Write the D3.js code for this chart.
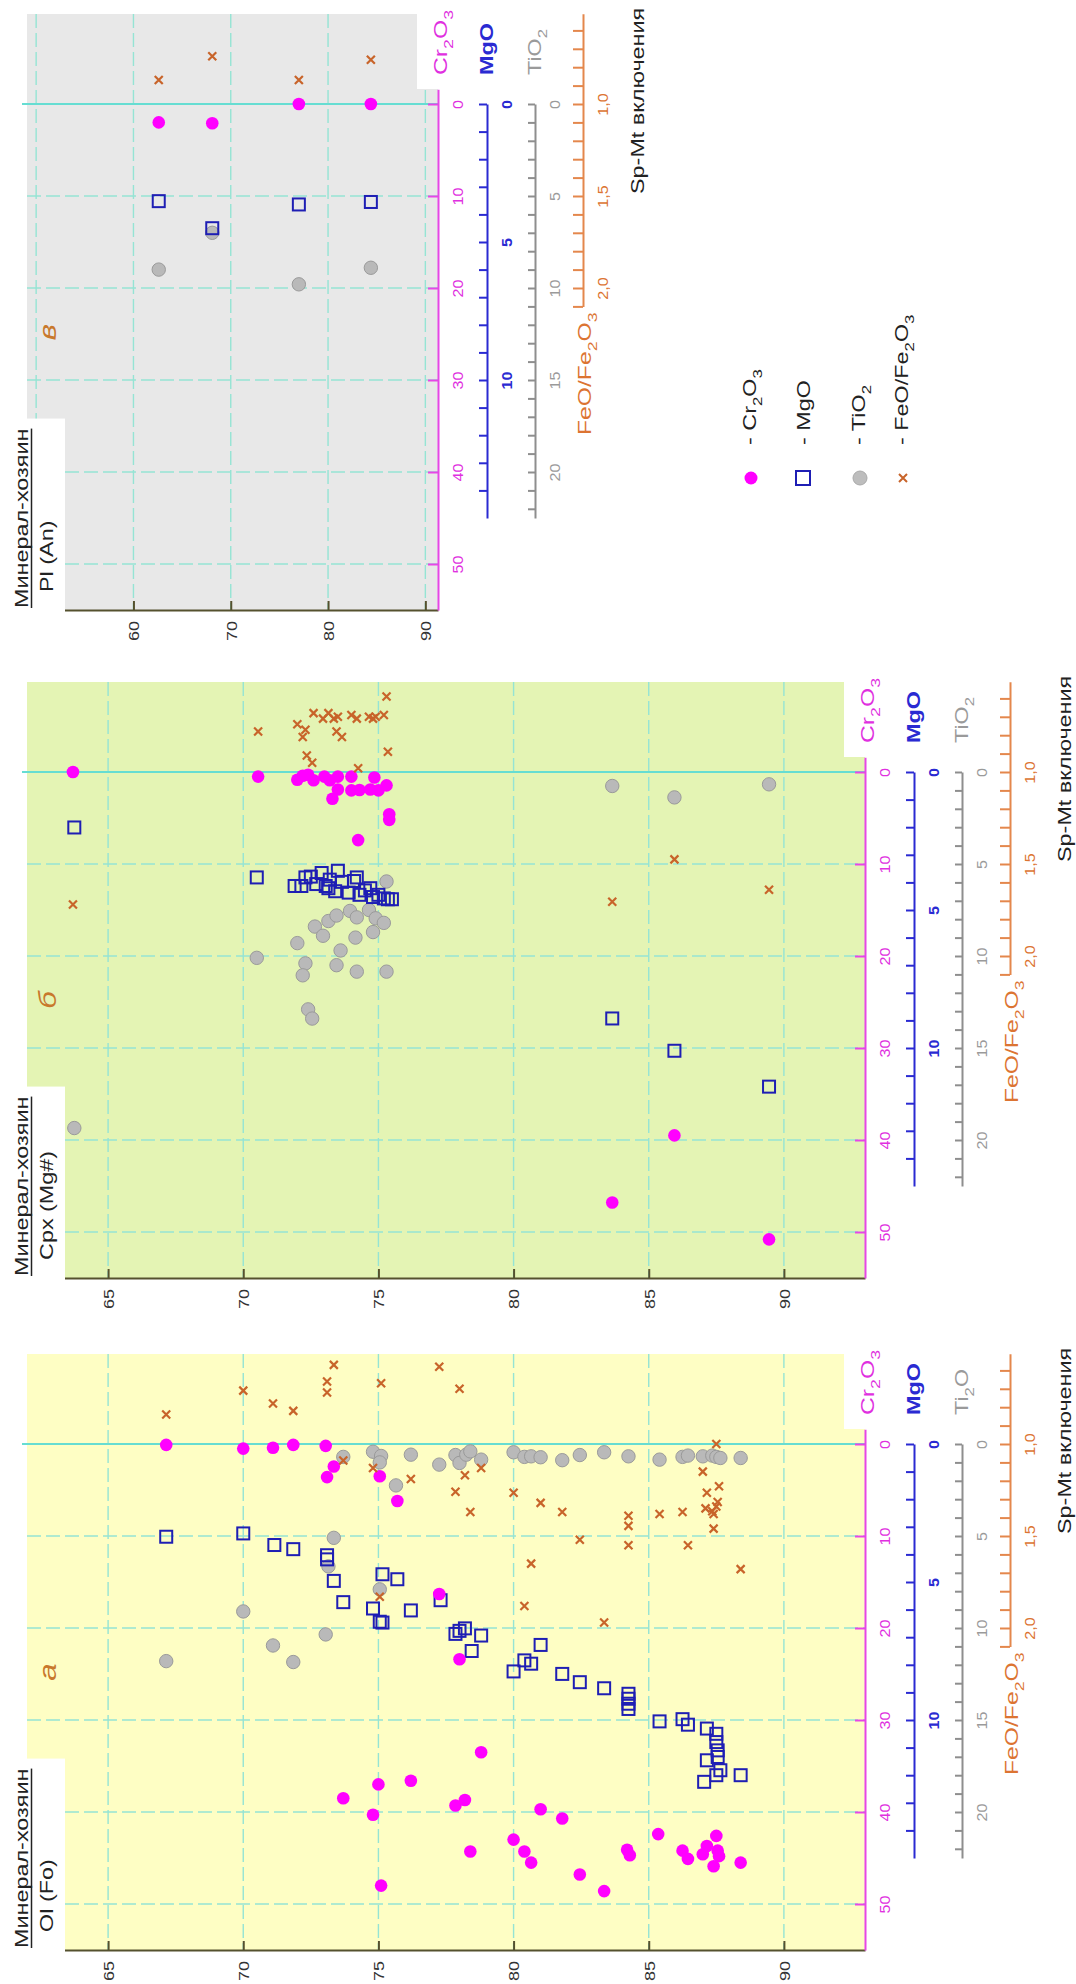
<!DOCTYPE html>
<html><head><meta charset="utf-8">
<script src="https://cdn.jsdelivr.net/npm/d3@7"></script>
<style>
body{margin:0;background:#fff;}
text{font-family:'Liberation Sans',Arial,Helvetica,sans-serif;}
</style>
</head><body>
<script>
// ---------- DATA (host composition, value) ----------
// Panel в : Pl (An)
const plCr2O3 = [[62.6,2.0],[68.1,2.1],[77.0,0.0],[84.4,0.0]];
const plMgO   = [[62.6,3.52],[68.1,4.5],[77.0,3.64],[84.4,3.55]];
const plTiO2  = [[62.6,9.0],[68.1,7.0],[77.0,9.8],[84.4,8.9]];
const plFeO   = [[62.6,0.87],[68.1,0.74],[77.0,0.87],[84.4,0.76]];

// Panel б : Cpx (Mg#)
const cpxCr2O3 = [[63.7,0.0],[70.55,0.5],[72.0,0.85],[72.2,0.4],[72.4,0.3],[72.6,0.9],[73.0,0.5],[73.2,0.9],[73.5,0.5],[74.0,0.5],[74.85,0.6],[73.5,1.9],[74.0,2.0],[74.3,1.95],[74.7,1.9],[75.0,2.0],[75.3,1.45],[73.3,2.9],[75.4,4.6],[75.4,5.2],[74.25,7.4],[85.95,39.5],[83.65,46.8],[89.45,50.8]];
const cpxMgO = [[63.75,2.01],[70.5,3.82],[71.9,4.13],[72.15,4.13],[72.3,3.82],[72.5,3.79],[72.7,4.06],[72.9,3.66],[73.05,4.13],[73.15,4.21],[73.2,3.9],[73.4,4.32],[73.5,3.58],[73.65,3.98],[73.9,4.37],[74.1,3.95],[74.2,3.82],[74.3,4.45],[74.5,4.29],[74.7,4.21],[74.8,4.53],[75.0,4.45],[75.2,4.58],[75.35,4.61],[75.5,4.61],[83.65,8.93],[85.95,10.1],[89.45,11.4]];
const cpxTiO2 = [[63.75,19.35],[70.5,10.1],[72.0,9.3],[72.3,10.4],[72.2,11.05],[72.4,12.9],[72.55,13.4],[72.65,8.4],[72.95,8.9],[73.15,8.1],[73.45,7.8],[73.6,9.7],[73.45,10.5],[73.95,7.55],[74.15,9.0],[74.2,7.9],[74.2,10.85],[74.65,7.5],[74.8,8.7],[74.9,7.95],[75.2,8.2],[75.3,5.95],[75.3,10.85],[83.65,0.76],[85.95,1.38],[89.45,0.67]];
const cpxFeO = [[63.7,1.72],[70.55,0.78],[72.0,0.74],[72.2,0.81],[72.3,0.77],[72.35,0.91],[72.55,0.95],[72.6,0.68],[72.95,0.71],[73.15,0.68],[73.35,0.71],[73.5,0.70],[73.45,0.78],[73.65,0.81],[74.0,0.69],[74.2,0.71],[74.25,0.98],[74.65,0.70],[74.8,0.71],[74.9,0.70],[75.2,0.69],[75.3,0.59],[75.35,0.89],[83.65,1.705],[85.95,1.475],[89.45,1.64]];

// Panel а : Ol (Fo)
const olCr2O3 = [[67.15,0.1],[70.0,0.5],[71.1,0.4],[71.85,0.1],[73.05,0.2],[73.35,2.45],[73.1,3.6],[75.05,3.5],[75.7,6.2],[77.25,16.3],[78.0,23.4],[73.7,38.5],[75.0,37.0],[76.2,36.6],[74.8,40.3],[75.1,48.0],[77.85,39.3],[78.2,38.7],[78.8,33.5],[81.0,39.7],[81.8,40.7],[80.0,43.0],[80.4,44.3],[80.65,45.5],[78.4,44.3],[82.45,46.8],[83.35,48.6],[84.2,44.1],[84.3,44.7],[85.35,42.4],[86.25,44.2],[86.45,45.1],[87.0,44.6],[87.15,43.7],[87.5,42.6],[87.55,44.2],[87.6,44.8],[87.4,45.9],[88.4,45.5]];
const olMgO = [[67.15,3.36],[70.0,3.24],[71.15,3.66],[71.85,3.81],[73.1,4.03],[73.1,4.18],[73.35,4.96],[73.7,5.73],[74.8,5.96],[75.15,4.72],[75.7,4.9],[75.05,6.44],[75.15,6.47],[76.2,6.03],[77.3,5.66],[77.85,6.88],[78.2,6.68],[78.0,6.77],[78.8,6.94],[78.45,7.5],[80.0,8.24],[80.4,7.84],[80.65,7.96],[81.0,7.28],[81.8,8.33],[82.45,8.63],[83.35,8.85],[84.25,9.05],[84.25,9.23],[84.25,9.41],[84.25,9.6],[85.4,10.05],[86.25,9.97],[86.45,10.17],[87.15,10.31],[87.5,10.5],[87.5,10.8],[87.55,11.1],[87.55,11.34],[87.15,11.46],[87.65,11.82],[87.5,12.0],[87.05,12.24],[88.4,12.0]];
const olTiO2 = [[67.15,11.8],[70.0,9.1],[71.1,10.95],[71.85,11.85],[73.05,10.35],[73.15,6.65],[73.35,5.1],[73.7,0.7],[74.8,0.42],[75.1,0.65],[75.05,1.0],[75.65,2.25],[75.05,7.9],[76.2,0.58],[77.25,1.12],[77.85,0.6],[78.0,1.03],[78.25,0.58],[78.4,0.4],[78.8,0.85],[80.0,0.45],[80.4,0.7],[80.65,0.67],[81.0,0.72],[81.8,0.88],[82.45,0.6],[83.35,0.45],[84.25,0.67],[85.4,0.85],[86.25,0.7],[86.45,0.63],[87.0,0.67],[87.35,0.63],[87.5,0.7],[87.65,0.76],[88.4,0.76]];
const olFeO = [[67.15,0.84],[70.0,0.71],[71.1,0.78],[71.85,0.82],[73.1,0.72],[73.1,0.66],[73.35,0.57],[73.7,1.09],[74.8,1.13],[75.1,0.67],[75.05,1.83],[76.2,1.19],[77.25,0.58],[77.85,1.26],[78.0,0.70],[78.2,1.17],[78.4,1.37],[78.8,1.13],[80.0,1.265],[81.0,1.32],[81.8,1.37],[82.45,1.52],[80.65,1.65],[80.4,1.88],[83.35,1.97],[84.25,1.39],[84.25,1.445],[84.25,1.55],[85.4,1.38],[86.25,1.37],[86.45,1.55],[87.0,1.15],[87.15,1.265],[87.6,1.23],[87.1,1.35],[87.35,1.365],[87.5,1.34],[87.4,1.38],[87.55,1.315],[87.4,1.46],[87.5,1.0],[88.4,1.68]];

// ---------- TICKS ----------
const hostTicksOlCpx = [65,70,75,80,85,90];
const hostTicksPl = [60,70,80,90];
const gridXOlCpx = [65,70,75,80,85,90];
const gridXPl = [50,60,70,80,90];
const crTicks = [0,10,20,30,40,50];
const crGrid = [10,20,30,40,50];
const mgLabels = [0,5,10];
const tiLabels = [0,5,10,15,20];
const feLabels = [1.0,1.5,2.0];

// ---------- STYLE ----------
const STR = 1.3;
const C = {pink:"#ff00ff", pinkAxis:"#e646e6", pinkText:"#e030e0",
  blue:"#1e1eb4", blueAxis:"#2a2ad2", grey:"#b9b9b9", greyAxis:"#8e8e8e", greyText:"#9a9a9a",
  orange:"#c8642a", orangeAxis:"#e4874c", orangeText:"#dc7432", grid:"#95e4d4", zero:"#66ddd2",
  host:"#55512e", letter:"#c8782c"};

const svg = d3.select("body").append("svg").attr("width",1076).attr("height",1984);

function rtext(parent, cx, y, segs, o = {}) {
  const size = o.size || 18, sx = o.sx || STR;
  const t = parent.append("text")
    .attr("transform", `translate(${cx + size*0.36},${y}) rotate(-90) scale(${sx},1)`)
    .attr("text-anchor", o.anchor || "start")
    .attr("font-size", size)
    .attr("fill", o.fill || "#222")
    .attr("font-weight", o.weight || "normal")
    .attr("font-style", o.style || "normal");
  if (typeof segs === "string") segs = [[segs, 0]];
  let down = false;
  segs.forEach(([s, sub]) => {
    const ts = t.append("tspan").text(s);
    if (sub) { ts.attr("font-size", size*0.72); if (!down) { ts.attr("dy", size*0.3); down = true; } }
    else if (down) { ts.attr("dy", -size*0.3); down = false; }
  });
  return t;
}

const panels = [
  {zero:104, hostDomain:[49.06,91.3], hostRange:[27,438], hostTicks:hostTicksPl, gridX:gridXPl, bg:"#e8e8e8",
   letter:"в", mineral:"Pl (An)", tiLabel:[["TiO",0],["2",1]], cr:plCr2O3, mg:plMgO, ti:plTiO2, fe:plFeO},
  {zero:772, hostDomain:[62,93], hostRange:[27,865], hostTicks:hostTicksOlCpx, gridX:gridXOlCpx, bg:"#e4f4b4",
   letter:"б", mineral:"Cpx (Mg#)", tiLabel:[["TiO",0],["2",1]], cr:cpxCr2O3, mg:cpxMgO, ti:cpxTiO2, fe:cpxFeO},
  {zero:1444, hostDomain:[62,93], hostRange:[27,865], hostTicks:hostTicksOlCpx, gridX:gridXOlCpx, bg:"#fefec4",
   letter:"а", mineral:"Ol (Fo)", tiLabel:[["Ti",0],["2",1],["O",0]], cr:olCr2O3, mg:olMgO, ti:olTiO2, fe:olFeO}
];

const PX = 9.2; // px per 1 wt% Cr2O3
panels.forEach(p => {
  const g = svg.append("g");
  const z = p.zero, top = z - 90, bottom = z + 506;
  const x = d3.scaleLinear().domain(p.hostDomain).range(p.hostRange);
  const ax = p.hostRange[1];
  const yCr = d3.scaleLinear().domain([0,50]).range([z, z + 50*PX]);
  const yMg = d3.scaleLinear().domain([0,15]).range([z, z + 45*PX]);
  const yTi = d3.scaleLinear().domain([0,22.5]).range([z, z + 45*PX]);
  const yFe = d3.scaleLinear().domain([1,2]).range([z, z + 20*PX]);

  // background
  g.append("rect").attr("x",27).attr("y",top).attr("width",ax-27).attr("height",bottom-top).attr("fill",p.bg);
  // grid
  g.selectAll(null).data(p.gridX).join("line")
    .attr("x1",d=>x(d)).attr("x2",d=>x(d)).attr("y1",top).attr("y2",bottom)
    .attr("stroke",C.grid).attr("stroke-width",1.4).attr("stroke-dasharray","14,5");
  g.selectAll(null).data(crGrid).join("line")
    .attr("x1",27).attr("x2",ax).attr("y1",d=>yCr(d)).attr("y2",d=>yCr(d))
    .attr("stroke",C.grid).attr("stroke-width",1.4).attr("stroke-dasharray","14,5");
  g.append("line").attr("x1",22).attr("x2",ax).attr("y1",yCr(0)).attr("y2",yCr(0))
    .attr("stroke",C.zero).attr("stroke-width",2.2);

  // panel letter
  rtext(g, 47, z + 228, p.letter, {size:24, anchor:"middle", fill:C.letter, style:"italic"});

  // markers
  g.selectAll(null).data(p.ti).join("circle")
    .attr("cx",d=>x(d[0])).attr("cy",d=>yTi(d[1])).attr("r",6.7)
    .attr("fill",C.grey).attr("stroke","#9a9a9a").attr("stroke-width",1);
  g.selectAll(null).data(p.mg).join("rect")
    .attr("x",d=>x(d[0])-6).attr("y",d=>yMg(d[1])-6).attr("width",12).attr("height",12)
    .attr("fill","none").attr("stroke",C.blue).attr("stroke-width",2);
  g.selectAll(null).data(p.cr).join("circle")
    .attr("cx",d=>x(d[0])).attr("cy",d=>yCr(d[1])).attr("r",6.3).attr("fill",C.pink);
  g.selectAll(null).data(p.fe).join("path")
    .attr("transform",d=>`translate(${x(d[0])},${yFe(d[1])})`)
    .attr("d","M-4,-4L4,4M-4,4L4,-4").attr("stroke",C.orange).attr("stroke-width",2.2);

  // white label box top-right
  g.append("rect").attr("x",ax-21).attr("y",top-12).attr("width",60).attr("height",(z-15)-(top-12)).attr("fill","#fff");

  // host axis
  const hAxis = d3.axisBottom(x).tickValues(p.hostTicks).tickSizeInner(-9).tickSizeOuter(0).tickFormat(d3.format("d"));
  const hg = g.append("g").attr("transform",`translate(0,${bottom})`).call(hAxis);
  hg.select(".domain").attr("stroke",C.host).attr("stroke-width",2);
  hg.selectAll(".tick line").attr("stroke",C.host).attr("stroke-width",2);
  hg.selectAll(".tick text").attr("y",null).attr("dy",null).attr("fill","#333").attr("font-size",15)
    .attr("text-anchor","end").attr("transform",`translate(${15*0.36},11) rotate(-90) scale(1.2,1)`);

  // mineral label box
  const t1 = rtext(g, 22, bottom - 2, "Минерал-хозяин", {size:18});
  const len = t1.node().getComputedTextLength() * STR;
  g.insert("rect", () => t1.node()).attr("x",0).attr("y",bottom - 2 - len - 10).attr("width",65)
    .attr("height",len + 14).attr("fill","#fff");
  g.append("line").attr("x1",31.5).attr("x2",31.5).attr("y1",bottom-2).attr("y2",bottom-2-len)
    .attr("stroke","#222").attr("stroke-width",1.5);
  rtext(g, 46.5, bottom - 18, p.mineral, {size:18});

  // right axes
  function rightAxis(scale, xpos, vals, labels, color, tcolor, len, fmt, bold) {
    const a = d3.axisRight(scale).tickValues(vals).tickSizeInner(-len).tickSizeOuter(0)
      .tickFormat(d => labels.some(v => Math.abs(v-d) < 1e-6) ? fmt(d) : "");
    const ag = g.append("g").attr("transform",`translate(${xpos},0)`).call(a);
    ag.select(".domain").attr("stroke",color).attr("stroke-width",2);
    ag.selectAll(".tick line").attr("stroke",color).attr("stroke-width",2);
    ag.selectAll(".tick text").attr("x",null).attr("dy",null).attr("fill",tcolor).attr("font-size",14)
      .attr("font-weight",bold?"bold":"normal").attr("text-anchor","middle")
      .attr("transform",`translate(${20+14*0.36},0) rotate(-90) scale(1.15,1)`);
  }
  const crAxisScale = d3.scaleLinear().domain([-1.6,55]).range([yCr(-1.6), yCr(55)]);
  rightAxis(crAxisScale, ax, crTicks, crTicks, C.pinkAxis, C.pinkText, 10, d3.format("d"), false);
  rightAxis(yMg, ax+49, d3.range(0,15,1), mgLabels, C.blueAxis, C.blueAxis, 8, d3.format("d"), true);
  rightAxis(yTi, ax+97, d3.range(0,23,1), tiLabels, C.greyAxis, C.greyText, 7, d3.format("d"), false);
  const feScale = d3.scaleLinear().domain([0.51,2.1]).range([yFe(0.51), yFe(2.1)]);
  rightAxis(feScale, ax+145, d3.range(6,22,1).map(v=>v/10), feLabels, C.orangeAxis, C.orangeText, 10,
    d => d3.format(".1f")(d).replace(".", ","), false);

  // axis titles
  rtext(g, ax+2, z-29, [["Cr",0],["2",1],["O",0],["3",1]], {size:19, fill:C.pinkText});
  rtext(g, ax+49, z-29, "MgO", {size:18, fill:C.blueAxis, weight:"bold"});
  rtext(g, ax+97, z-29, p.tiLabel, {size:18, fill:C.greyText});
  rtext(g, ax+146, z+331, [["FeO/Fe",0],["2",1],["O",0],["3",1]], {size:19, fill:C.orangeText});
  rtext(g, ax+200, z+90, "Sp-Mt включения", {size:18, fill:"#222"});
});

// legend
const legendY = 478, legendTextY = 445;
const lg = svg.append("g");
lg.append("circle").attr("cx",751).attr("cy",legendY).attr("r",6.5).attr("fill",C.pink);
lg.append("rect").attr("x",803-7).attr("y",legendY-7).attr("width",14).attr("height",14)
  .attr("fill","none").attr("stroke",C.blue).attr("stroke-width",2);
lg.append("circle").attr("cx",860).attr("cy",legendY).attr("r",7).attr("fill","#bdbdbd").attr("stroke","#aaa");
lg.append("path").attr("transform",`translate(903,${legendY})`).attr("d","M-4,-4L4,4M-4,4L4,-4")
  .attr("stroke",C.orange).attr("stroke-width",2);
rtext(lg, 750, legendTextY, [["- Cr",0],["2",1],["O",0],["3",1]], {size:18});
rtext(lg, 804, legendTextY, "- MgO", {size:18});
rtext(lg, 859, legendTextY, [["- TiO",0],["2",1]], {size:18});
rtext(lg, 902, legendTextY, [["- FeO/Fe",0],["2",1],["O",0],["3",1]], {size:18});
</script>
</body></html>
